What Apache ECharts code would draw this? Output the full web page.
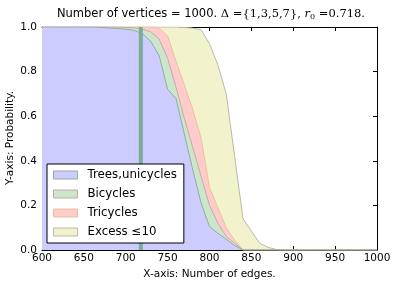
<!DOCTYPE html>
<html>
<head>
<meta charset="utf-8">
<script src="https://cdn.jsdelivr.net/npm/echarts@6/dist/echarts.min.js"></script>
<style>html,body{margin:0;padding:0;background:#fff}#c{width:396px;height:286px}</style>
</head>
<body>
<div id="c"></div>
<script>
const edges = [600,610,620,630,640,650,660,670,680,690,700,710,720,730,740,750,760,770,780,790,800,810,820,830,840,850,860,870,880,890,900,910,920,930,940,950,960,970,980,990,1000];
const treesUnicycles = [1,1,1,1,1,1,1,0.998,0.996,0.993,0.99,0.985,0.97,0.935,0.87,0.72,0.68,0.52,0.36,0.21,0.105,0.075,0.048,0.02,0,0,0,0,0,0,0,0,0,0,0,0,0,0,0,0,0];
const bicycles = [1,1,1,1,1,1,1,1,1,0.999,0.998,0.996,0.99,0.978,0.945,0.86,0.73,0.59,0.46,0.33,0.2,0.12,0.06,0.03,0,0,0,0,0,0,0,0,0,0,0,0,0,0,0,0,0];
const tricycles = [1,1,1,1,1,1,1,1,1,1,1,1,1,1,0.995,0.96,0.845,0.74,0.63,0.5,0.28,0.19,0.1,0.045,0,0,0,0,0,0,0,0,0,0,0,0,0,0,0,0,0];
const excess10 = [1,1,1,1,1,1,1,1,1,1,1,1,1,1,1,1,1,0.998,0.995,0.988,0.925,0.83,0.7,0.42,0.14,0.085,0.03,0.012,0.002,0,0,0,0,0,0,0,0,0,0,0,0];
const r0Edges = 718;
const xTicks = [600,650,700,750,800,850,900,950,1000];
const yTicks = [0.0,0.2,0.4,0.6,0.8,1.0];
const seriesNames = ['Trees,unicycles','Bicycles','Tricycles','Excess \u226410'];
const yAxisLabel = 'Y-axis: Probability.';

const fills = ['#ccccff','#cce6cc','#ffcccc','#f2f2cc'];
const edgesCol = ['#8fae9c','#c9a9a2','#efbf98','#b9b9ab'];
const datas = [treesUnicycles, bicycles, tricycles, excess10];
const font = 'DejaVu Sans';

const series = datas.map((arr,i)=>({
  name: seriesNames[i], type:'line', symbol:'none', showSymbol:false,
  data: edges.map((x,j)=>[x, arr[j]]),
  lineStyle:{color:edgesCol[i], width:1},
  itemStyle:{color:fills[i]},
  areaStyle:{color:fills[i], opacity:1},
  z: 10 - i, silent:true, animation:false
}));
series.push({
  name:'r0', type:'line', symbol:'none', data:[[r0Edges,0],[r0Edges,1]],
  lineStyle:{color:'#7aad99', width:4}, z:12, animation:false
});

const axisCommon = {
  type:'value', min:600, max:1000, interval:50,
  axisLine:{show:true, onZero:false, lineStyle:{color:'#000', width:1}},
  axisTick:{show:true, inside:true, length:4, lineStyle:{color:'#000'}},
  splitLine:{show:false}
};
const option = {
  animation:false,
  backgroundColor:'#fff',
  graphic:[{
    type:'text', x:211, y:14, z:30,
    style:{
      text:'{a|Number of vertices = 1000. }\u0394 ={1,3,5,7}, {i|r}{s|0} =0.718.',
      align:'center', verticalAlign:'middle',
      fontFamily:'DejaVu Serif', fontSize:11.5, fontWeight:'normal', fill:'#000',
      rich:{
        a:{fontFamily:font, fontSize:11.5, fill:'#000', color:'#000'},
        i:{fontFamily:'DejaVu Serif', fontSize:11.5, fontStyle:'italic', fill:'#000', color:'#000'},
        s:{fontFamily:'DejaVu Serif', fontSize:8, fill:'#000', color:'#000', padding:[5,0,0,0]}
      }
    }
  },{
    type:'text', x:10, y:138, rotation:Math.PI/2, z:30,
    style:{text:yAxisLabel, align:'center', verticalAlign:'middle',
      fontFamily:font, fontSize:10.5, fill:'#000'}
  }],
  legend:{
    orient:'vertical', left:47, top:164, z:20,
    backgroundColor:'#fff', borderColor:'#000', borderWidth:1, borderRadius:0,
    padding:[5,7,5,6], itemGap:7, itemWidth:24, itemHeight:8, icon:'rect',
    textStyle:{fontFamily:font, fontSize:11.8, color:'#000', padding:[0,0,0,5], lineHeight:12},
    data: seriesNames.map((n,i)=>({name:n, itemStyle:{color:fills[i], borderColor:edgesCol[i], borderWidth:1}}))
  },
  grid:{left:42, right:19, top:27, bottom:36, containLabel:false, outerBoundsMode:'none'},
  xAxis:[
    Object.assign({}, axisCommon, {position:'bottom',
      name:'X-axis: Number of edges.', nameLocation:'middle', nameGap:18,
      nameTextStyle:{fontFamily:font, fontSize:10.5, color:'#000'},
      axisLabel:{show:true, margin:3, fontFamily:font, fontSize:10.5, color:'#000',
        formatter:(v)=> xTicks.includes(v) ? String(v) : ''}}),
    Object.assign({}, axisCommon, {position:'top', axisLabel:{show:false}})
  ],
  yAxis:[
    {type:'value', min:0, max:1, interval:0.2, position:'left',
      axisLine:{show:true, onZero:false, lineStyle:{color:'#000'}},
      axisTick:{show:true, inside:true, length:4, lineStyle:{color:'#000'}},
      splitLine:{show:false},
      axisLabel:{margin:5, fontFamily:font, fontSize:10.5, color:'#000',
        formatter:(v)=> yTicks.some(t=>Math.abs(t-v)<1e-9) ? v.toFixed(1) : ''}},
    {type:'value', min:0, max:1, interval:0.2, position:'right',
      axisLine:{show:true, onZero:false, lineStyle:{color:'#000'}},
      axisTick:{show:true, inside:true, length:4, lineStyle:{color:'#000'}},
      splitLine:{show:false}, axisLabel:{show:false}}
  ],
  series: series
};
const chart = echarts.init(document.getElementById('c'), null, {renderer:'canvas'});
chart.setOption(option);
</script>
</body>
</html>
